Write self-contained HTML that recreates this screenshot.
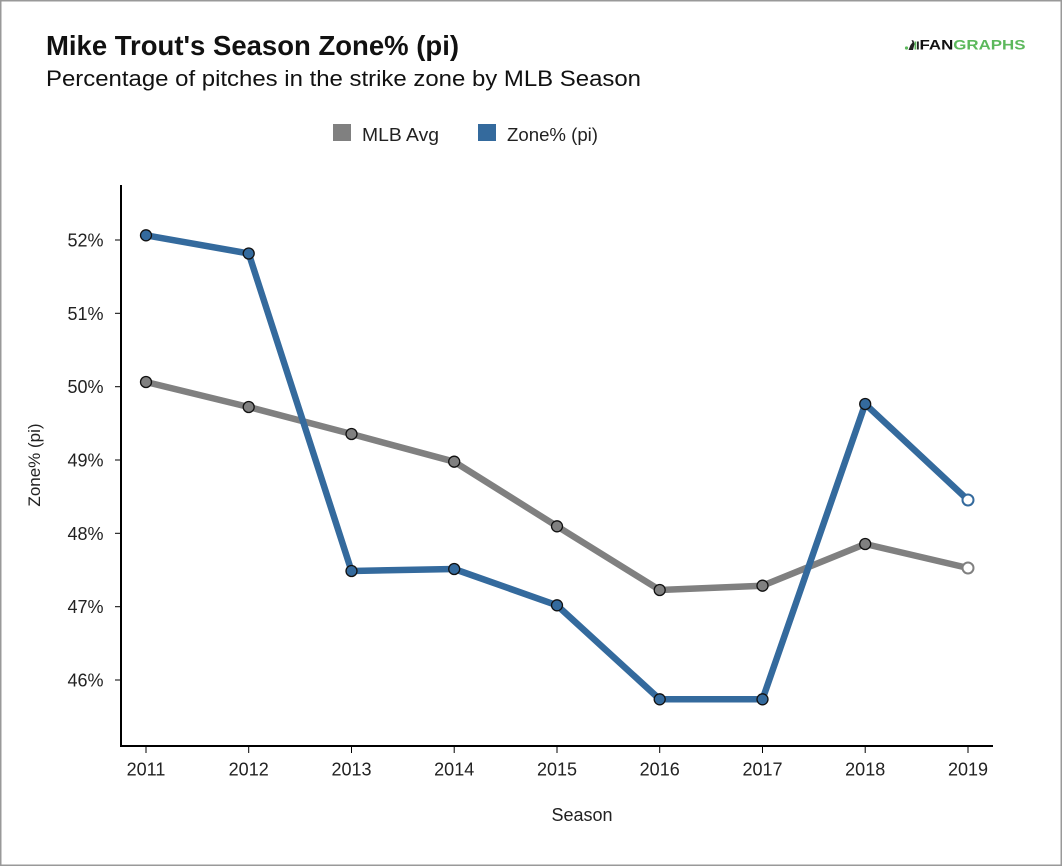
<!DOCTYPE html>
<html>
<head>
<meta charset="utf-8">
<style>
html,body{margin:0;padding:0;background:#fff;}
svg{display:block;}
text{font-family:"Liberation Sans",sans-serif;}
</style>
</head>
<body>
<svg width="1063" height="867" viewBox="0 0 1063 867" xmlns="http://www.w3.org/2000/svg">
<rect x="0" y="0" width="1063" height="867" fill="#fff"/>
<rect x="0.75" y="0.75" width="1060.5" height="864.5" fill="none" stroke="#999" stroke-width="1.5"/>

<!-- Title -->
<text x="46" y="55" font-size="28" font-weight="bold" fill="#111" textLength="413" lengthAdjust="spacingAndGlyphs">Mike Trout's Season Zone% (pi)</text>
<text x="46" y="86" font-size="22" fill="#111" textLength="595" lengthAdjust="spacingAndGlyphs">Percentage of pitches in the strike zone by MLB Season</text>

<!-- Logo -->
<circle cx="906.5" cy="48" r="1.6" fill="#5cb85c"/>
<path d="M908.5 50 L910.5 45 L912.5 42.5 L911.5 40 L913.5 40.5 L914.5 44 L913 50 Z" fill="#222"/>
<rect x="914.5" y="41.5" width="1.8" height="8" fill="#5cb85c"/>
<rect x="917" y="41.5" width="1.8" height="8" fill="#222"/>
<text x="919.5" y="49.5" font-size="14" font-weight="bold" fill="#111" textLength="106" lengthAdjust="spacingAndGlyphs">FAN<tspan fill="#5cb85c">GRAPHS</tspan></text>

<!-- Legend -->
<rect x="333" y="124" width="18" height="17" fill="#808080"/>
<text x="362" y="141" font-size="18" fill="#222" textLength="77" lengthAdjust="spacingAndGlyphs">MLB Avg</text>
<rect x="478" y="124" width="18" height="17" fill="#346a9d"/>
<text x="507" y="141" font-size="18" fill="#222" textLength="91" lengthAdjust="spacingAndGlyphs">Zone% (pi)</text>

<!-- Axes -->
<line x1="121" y1="185" x2="121" y2="747" stroke="#000" stroke-width="2"/>
<line x1="120" y1="746" x2="993" y2="746" stroke="#000" stroke-width="2"/>

<!-- Y ticks -->
<g stroke="#000" stroke-width="1">
<line x1="115" y1="240" x2="121" y2="240"/>
<line x1="115" y1="313.3" x2="121" y2="313.3"/>
<line x1="115" y1="386.7" x2="121" y2="386.7"/>
<line x1="115" y1="460" x2="121" y2="460"/>
<line x1="115" y1="533.3" x2="121" y2="533.3"/>
<line x1="115" y1="606.7" x2="121" y2="606.7"/>
<line x1="115" y1="680" x2="121" y2="680"/>
</g>
<g font-size="18" fill="#222" text-anchor="end">
<text x="103.5" y="246.5">52%</text>
<text x="103.5" y="319.8">51%</text>
<text x="103.5" y="393.2">50%</text>
<text x="103.5" y="466.5">49%</text>
<text x="103.5" y="539.8">48%</text>
<text x="103.5" y="613.2">47%</text>
<text x="103.5" y="686.5">46%</text>
</g>

<!-- X ticks -->
<g stroke="#000" stroke-width="1">
<line x1="146" y1="746" x2="146" y2="753"/>
<line x1="248.7" y1="746" x2="248.7" y2="753"/>
<line x1="351.5" y1="746" x2="351.5" y2="753"/>
<line x1="454.2" y1="746" x2="454.2" y2="753"/>
<line x1="557" y1="746" x2="557" y2="753"/>
<line x1="659.7" y1="746" x2="659.7" y2="753"/>
<line x1="762.5" y1="746" x2="762.5" y2="753"/>
<line x1="865.2" y1="746" x2="865.2" y2="753"/>
<line x1="968" y1="746" x2="968" y2="753"/>
</g>
<g font-size="18" fill="#222" text-anchor="middle">
<text x="146" y="775.5">2011</text>
<text x="248.7" y="775.5">2012</text>
<text x="351.5" y="775.5">2013</text>
<text x="454.2" y="775.5">2014</text>
<text x="557" y="775.5">2015</text>
<text x="659.7" y="775.5">2016</text>
<text x="762.5" y="775.5">2017</text>
<text x="865.2" y="775.5">2018</text>
<text x="968" y="775.5">2019</text>
</g>

<!-- Axis titles -->
<text x="582" y="821" font-size="18" fill="#222" text-anchor="middle">Season</text>
<text transform="translate(40,465) rotate(-90)" x="0" y="0" font-size="17" fill="#222" text-anchor="middle">Zone% (pi)</text>

<!-- MLB Avg series -->
<polyline fill="none" stroke="#808080" stroke-width="6.5" stroke-linejoin="round"
 points="146,382 248.7,407 351.5,434 454.2,461.7 557,526.3 659.7,590 762.5,585.7 865.2,544 968,568"/>
<!-- Zone% series -->
<polyline fill="none" stroke="#346a9d" stroke-width="6.5" stroke-linejoin="round"
 points="146,235.3 248.7,253.5 351.5,571 454.2,569 557,605.3 659.7,699.3 762.5,699.3 865.2,404 968,500"/>

<!-- MLB markers -->
<g fill="#808080" stroke="#111" stroke-width="1.3">
<circle cx="146" cy="382" r="5.5"/>
<circle cx="248.7" cy="407" r="5.5"/>
<circle cx="351.5" cy="434" r="5.5"/>
<circle cx="454.2" cy="461.7" r="5.5"/>
<circle cx="557" cy="526.3" r="5.5"/>
<circle cx="659.7" cy="590" r="5.5"/>
<circle cx="762.5" cy="585.7" r="5.5"/>
<circle cx="865.2" cy="544" r="5.5"/>
</g>
<circle cx="968" cy="568" r="5.5" fill="#fff" stroke="#808080" stroke-width="2"/>

<!-- Zone markers -->
<g fill="#346a9d" stroke="#111" stroke-width="1.3">
<circle cx="146" cy="235.3" r="5.5"/>
<circle cx="248.7" cy="253.5" r="5.5"/>
<circle cx="351.5" cy="571" r="5.5"/>
<circle cx="454.2" cy="569" r="5.5"/>
<circle cx="557" cy="605.3" r="5.5"/>
<circle cx="659.7" cy="699.3" r="5.5"/>
<circle cx="762.5" cy="699.3" r="5.5"/>
<circle cx="865.2" cy="404" r="5.5"/>
</g>
<circle cx="968" cy="500" r="5.5" fill="#fff" stroke="#346a9d" stroke-width="2"/>
</svg>
</body>
</html>
